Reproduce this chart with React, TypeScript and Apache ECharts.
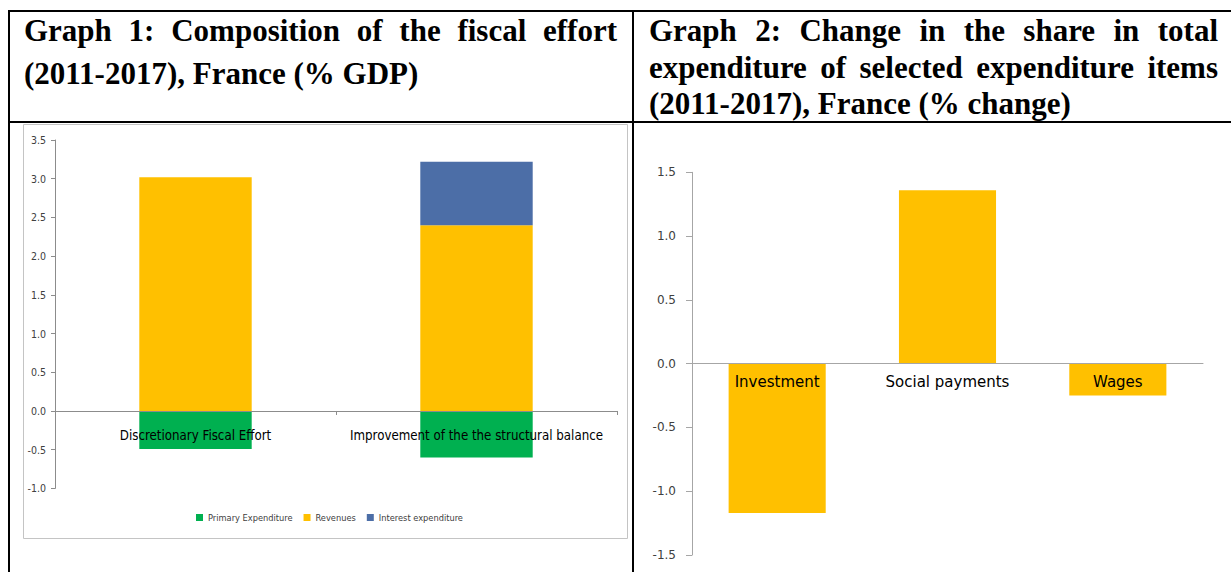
import React, { useEffect, useRef } from "react";
import * as echarts from "echarts";

// ---------- Data ----------
const leftCategories = ["Discretionary Fiscal Effort", "Improvement of the the structural balance"];
const primaryExpenditure = [-0.49, -0.6];
const revenues = [3.02, 2.4];
const interestExpenditure = [0, 0.82];
const legendNames = ["Primary Expenditure", "Revenues", "Interest expenditure"];
const leftTicks = { min: -1, max: 3.5, interval: 0.5 };

const rightCategories = ["Investment", "Social payments", "Wages"];
const shareChange = [-1.17, 1.36, -0.25];
const rightTicks = { min: -1.5, max: 1.5, interval: 0.5 };

const title1Lines = ["Graph 1: Composition of the fiscal effort", "(2011-2017), France (% GDP)"];
const title2Lines = [
  "Graph 2: Change in the share in total",
  "expenditure of selected expenditure items",
  "(2011-2017), France (% change)",
];

// ---------- Styles ----------
const NARROW = "'Liberation Sans Narrow', 'DejaVu Sans Condensed', sans-serif";
const VERDANA = "'DejaVu Sans', Verdana, sans-serif";
const SERIF = "'Liberation Serif', 'Times New Roman', serif";
const TITLE_FS = 31;

// grid geometry (pixels)
const G1 = { left: 55, top: 140, width: 562, height: 348.4 };
const G2 = { left: 692, top: 172.3, width: 511, height: 382.7 };
// distance from grid bottom up to the value 0 line
const zeroOffset = (g: { height: number }, t: { min: number; max: number }) =>
  -(g.height * (0 - t.min)) / (t.max - t.min);

function titleElements(lines: string[], ys: number[], x0: number, x1: number, justifyCount: number) {
  const canvas = document.createElement("canvas");
  const ctx = canvas.getContext("2d")!;
  ctx.font = `bold ${TITLE_FS}px ${SERIF}`;
  const els: any[] = [];
  const mk = (text: string, x: number, y: number) => ({
    type: "text",
    x,
    y,
    silent: true,
    style: {
      text,
      fill: "#000",
      fontFamily: SERIF,
      fontWeight: "bold",
      fontSize: TITLE_FS,
      textAlign: "left",
      textVerticalAlign: "middle",
      align: "left",
      verticalAlign: "middle",
    },
  });
  lines.forEach((line, i) => {
    const y = ys[i];
    if (i < justifyCount) {
      const words = line.split(" ");
      const widths = words.map((w) => ctx.measureText(w).width);
      const total = widths.reduce((a, b) => a + b, 0);
      const gap = (x1 - x0 - total) / (words.length - 1);
      let x = x0;
      words.forEach((w, j) => {
        els.push(mk(w, x, y));
        x += widths[j] + gap;
      });
    } else {
      els.push(mk(line, x0, y));
    }
  });
  return els;
}

export default function App() {
  const ref = useRef<HTMLDivElement>(null);

  useEffect(() => {
    if (!ref.current) return;
    const chart = echarts.init(ref.current, undefined, { renderer: "svg" });

    const borderLine = (x1: number, y1: number, x2: number, y2: number) => ({
      type: "line",
      silent: true,
      z: 100,
      shape: { x1, y1, x2, y2 },
      style: { stroke: "#000", lineWidth: 2 },
    });

    const option: any = {
      animation: false,
      backgroundColor: "#ffffff",
      legend: {
        left: 196,
        top: 513,
        padding: 0,
        itemWidth: 7,
        itemHeight: 7,
        itemGap: 11,
        icon: "rect",
        data: legendNames,
        textStyle: { fontFamily: NARROW, fontSize: 9.2, color: "#404040" },
      },
      grid: [G1, G2],
      xAxis: [
        {
          type: "category",
          gridIndex: 0,
          data: leftCategories,
          position: "bottom",
          offset: zeroOffset(G1, leftTicks),
          z: 10,
          axisLine: { show: true, onZero: false, lineStyle: { color: "#8c8c8c", width: 1 } },
          axisTick: { show: true, length: 4, lineStyle: { color: "#8c8c8c" } },
          axisLabel: { interval: 0, margin: 18, fontFamily: NARROW, fontSize: 13.2, color: "#000" },
          splitLine: { show: false },
        },
        {
          type: "category",
          gridIndex: 1,
          data: rightCategories,
          position: "bottom",
          offset: zeroOffset(G2, rightTicks),
          z: 10,
          axisLine: { show: true, onZero: false, lineStyle: { color: "#a6a6a6", width: 1 } },
          axisTick: { show: false },
          axisLabel: { interval: 0, margin: 11, fontFamily: VERDANA, fontSize: 15, color: "#000" },
          splitLine: { show: false },
        },
      ],
      yAxis: [
        {
          type: "value",
          gridIndex: 0,
          ...leftTicks,
          splitLine: { show: false },
          axisLine: { show: true, lineStyle: { color: "#8c8c8c" } },
          axisTick: { show: true, length: 4, lineStyle: { color: "#8c8c8c" } },
          axisLabel: {
            margin: 9,
            formatter: (v: number) => v.toFixed(1),
            fontFamily: NARROW,
            fontSize: 10.5,
            color: "#404040",
          },
        },
        {
          type: "value",
          gridIndex: 1,
          ...rightTicks,
          splitLine: { show: false },
          axisLine: { show: true, lineStyle: { color: "#a6a6a6" } },
          axisTick: { show: true, length: 6, lineStyle: { color: "#a6a6a6" } },
          axisLabel: {
            margin: 16,
            formatter: (v: number) => v.toFixed(1),
            fontFamily: VERDANA,
            fontSize: 12,
            color: "#404040",
          },
        },
      ],
      series: [
        {
          name: legendNames[0],
          type: "bar",
          xAxisIndex: 0,
          yAxisIndex: 0,
          stack: "fiscal",
          barWidth: "40%",
          data: primaryExpenditure,
          itemStyle: { color: "#00B050" },
        },
        {
          name: legendNames[1],
          type: "bar",
          xAxisIndex: 0,
          yAxisIndex: 0,
          stack: "fiscal",
          barWidth: "40%",
          data: revenues,
          itemStyle: { color: "#FFC000" },
        },
        {
          name: legendNames[2],
          type: "bar",
          xAxisIndex: 0,
          yAxisIndex: 0,
          stack: "fiscal",
          barWidth: "40%",
          data: interestExpenditure,
          itemStyle: { color: "#4C6EA7" },
        },
        {
          name: "Change in share",
          type: "bar",
          xAxisIndex: 1,
          yAxisIndex: 1,
          barWidth: "57%",
          data: shareChange,
          itemStyle: { color: "#FFC000" },
        },
      ],
      graphic: [
        {
          type: "rect",
          silent: true,
          z: -10,
          shape: { x: 23.5, y: 124.5, width: 604, height: 414 },
          style: { fill: "none", stroke: "#c4c4c4", lineWidth: 1 },
        },
        borderLine(8, 11, 1231, 11),
        borderLine(9, 10, 9, 572),
        borderLine(633, 10, 633, 572),
        borderLine(8, 122, 1231, 122),
        ...titleElements(title1Lines, [30.5, 73], 24, 617, 1),
        ...titleElements(title2Lines, [30.5, 67, 103.5], 649, 1218, 2),
      ],
    };

    chart.setOption(option);
    return () => chart.dispose();
  }, []);

  return (
    <div
      ref={ref}
      style={{ position: "fixed", left: 0, top: 0, width: 1231, height: 572, background: "#fff" }}
    />
  );
}
